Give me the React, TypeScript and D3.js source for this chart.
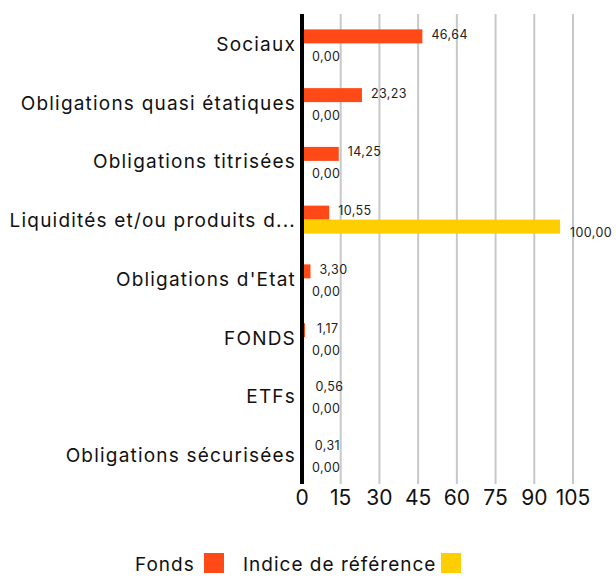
import React from "react";
import * as d3 from "d3";

const categories = [
  "Sociaux",
  "Obligations quasi étatiques",
  "Obligations titrisées",
  "Liquidités et/ou produits d...",
  "Obligations d'Etat",
  "FONDS",
  "ETFs",
  "Obligations sécurisées",
];
const fonds = [46.64, 23.23, 14.25, 10.55, 3.3, 1.17, 0.56, 0.31];
const indice = [0, 0, 0, 100, 0, 0, 0, 0];
const ticks = [0, 15, 30, 45, 60, 75, 90, 105];
const seriesNames = ["Fonds", "Indice de référence"];
const colors = ["#FF4A17", "#FFCE00"];

const fmt = (v: number) => v.toFixed(2).replace(".", ",");

export default function App() {
  const W = 616, H = 579;
  const x = d3.scaleLinear().domain([0, 105]).range([302, 573]);
  const y = d3.scaleBand<string>().domain(categories).range([14, 484]);
  const bh = 14;
  const font = "Inter, 'Open Sans', sans-serif";
  return (
    <svg width={W} height={H} style={{ position: "absolute", left: 0, top: 0 }} fontFamily={font}>
      {ticks.slice(1).map((t) => (
        <line key={t} x1={x(t)} x2={x(t)} y1={14} y2={484} stroke="#c8c8c8" strokeWidth={2} />
      ))}
      {categories.map((c, i) => {
        const cy = (y(c) as number) + y.bandwidth() / 2;
        return (
          <g key={c}>
            <text x={296} y={cy + 1} textAnchor="end" dominantBaseline="central" fontSize={19} letterSpacing={1.2} fill="#111">{c}</text>
            <rect x={x(0)} y={cy - bh} width={Math.max(0, x(fonds[i]) - x(0))} height={bh} fill={colors[0]} />
            <rect x={x(0)} y={cy} width={Math.max(0, x(indice[i]) - x(0))} height={bh} fill={colors[1]} />
            <text x={x(fonds[i]) + (fonds[i] > 2 ? 9 : 12)} y={cy - bh / 2 - 2} dominantBaseline="central" fontSize={12.5} letterSpacing={0.4} fill="#222">{fmt(fonds[i])}</text>
            <text x={x(indice[i]) + 10} y={cy + bh / 2 + 6} dominantBaseline="central" fontSize={12.5} letterSpacing={0.4} fill="#222">{fmt(indice[i])}</text>
          </g>
        );
      })}
      <line x1={302} x2={302} y1={14} y2={484} stroke="#000" strokeWidth={4} />
      {ticks.map((t) => (
        <text key={t} x={x(t)} y={497} textAnchor="middle" dominantBaseline="central" fontSize={21} fill="#111">{t}</text>
      ))}
      <text x={135} y={564} dominantBaseline="central" fontSize={19} letterSpacing={1} fill="#111">{seriesNames[0]}</text>
      <rect x={204} y={553} width={20} height={20} fill={colors[0]} />
      <text x={243} y={564} dominantBaseline="central" fontSize={19} letterSpacing={1} fill="#111">{seriesNames[1]}</text>
      <rect x={441} y={553} width={20} height={20} fill={colors[1]} />
    </svg>
  );
}
